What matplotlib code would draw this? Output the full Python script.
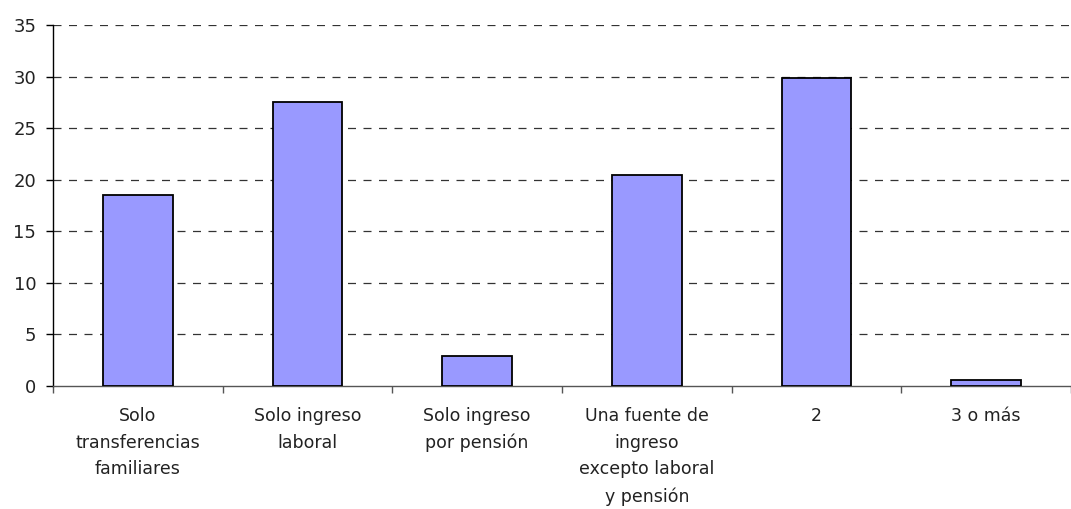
import matplotlib
matplotlib.use("Agg")
import matplotlib.pyplot as plt
import numpy as np

categories = [
    "Solo\ntransferencias\nfamiliares",
    "Solo ingreso\nlaboral",
    "Solo ingreso\npor pensión",
    "Una fuente de\ningreso\nexcepto laboral\ny pensión",
    "2",
    "3 o más",
]
values = [18.5, 27.5, 2.9, 20.5, 29.9, 0.55]
yticks = [0, 5, 10, 15, 20, 25, 30, 35]

BAR_COLOR = "#9999FF"

plt.rcParams["font.family"] = ["DejaVu Sans"]

fig = plt.figure(figsize=(10.71, 5.09), dpi=100)
ax = fig.add_axes([53 / 1071, 123 / 509, 1018 / 1071, 361 / 509])

x = np.arange(len(categories))
ax.bar(x, values, width=0.41, color=BAR_COLOR, edgecolor="black",
       linewidth=1.3, zorder=3)

# dashed horizontal gridlines
for y in yticks[1:]:
    ax.axhline(y, color="#333333", linewidth=0.9, linestyle=(0, (6.4, 6.0)), zorder=1)

ax.set_ylim(0, 35)
ax.set_xlim(-0.5, -0.5 + 1018 / 171.3)
ax.set_yticks(yticks)
ax.set_yticklabels([str(v) for v in yticks], fontsize=13, color="#222222")

# category ticks at boundaries, labels centred
ax.set_xticks(np.arange(len(categories) + 1) - 0.5)
ax.set_xticklabels([])
ax.set_xticks(x, minor=True)
ax.set_xticklabels(categories, minor=True, fontsize=12.5, linespacing=1.62,
                   color="#222222")
ax.tick_params(axis="x", which="minor", length=0, pad=15)
ax.tick_params(axis="x", which="major", direction="out", length=5,
               color="#555555", width=1)
ax.tick_params(axis="y", direction="out", length=5, width=1, pad=7)

for side in ("top", "right"):
    ax.spines[side].set_visible(False)
ax.spines["left"].set_linewidth(1)
ax.spines["bottom"].set_color("#555555")
ax.spines["bottom"].set_linewidth(1)

fig.savefig("out.png", dpi=100)
